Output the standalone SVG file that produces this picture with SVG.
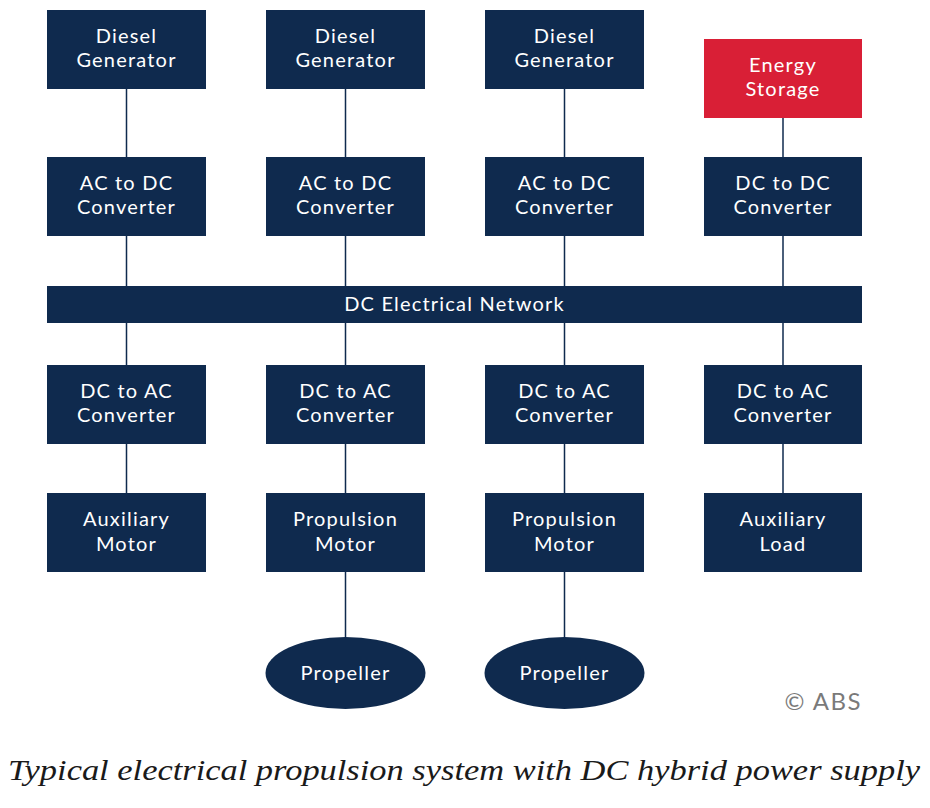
<svg xmlns="http://www.w3.org/2000/svg" width="930" height="808" viewBox="0 0 930 808">
<style>
.box{fill:#0f2a4e}
.red{fill:#d91f36}
.t{font-family:Lato,"Open Sans",sans-serif;font-size:20px;letter-spacing:1.2px;fill:#ffffff;text-anchor:middle}
.ln{stroke:#0f2a4e;stroke-width:1.5;fill:none}
</style>
<rect width="930" height="808" fill="#ffffff"/>
<g id="connectors">
<line class="ln" x1="126.5" y1="89" x2="126.5" y2="493"/>
<line class="ln" x1="345.5" y1="89" x2="345.5" y2="640"/>
<line class="ln" x1="564.5" y1="89" x2="564.5" y2="640"/>
<line class="ln" x1="783" y1="118" x2="783" y2="493"/>
</g>
<g id="dg1"><rect class="box" x="47" y="10" width="159" height="79"/><text class="t" x="126.5" y="43">Diesel</text><text class="t" x="126.5" y="67">Generator</text></g>
<g id="dg2"><rect class="box" x="266" y="10" width="159" height="79"/><text class="t" x="345.5" y="43">Diesel</text><text class="t" x="345.5" y="67">Generator</text></g>
<g id="dg3"><rect class="box" x="485" y="10" width="159" height="79"/><text class="t" x="564.5" y="43">Diesel</text><text class="t" x="564.5" y="67">Generator</text></g>
<g id="es"><rect class="red" x="704" y="39" width="158" height="79"/><text class="t" x="783" y="72">Energy</text><text class="t" x="783" y="96">Storage</text></g>
<g id="acdc1"><rect class="box" x="47" y="157" width="159" height="79"/><text class="t" x="126.5" y="190">AC to DC</text><text class="t" x="126.5" y="214">Converter</text></g>
<g id="acdc2"><rect class="box" x="266" y="157" width="159" height="79"/><text class="t" x="345.5" y="190">AC to DC</text><text class="t" x="345.5" y="214">Converter</text></g>
<g id="acdc3"><rect class="box" x="485" y="157" width="159" height="79"/><text class="t" x="564.5" y="190">AC to DC</text><text class="t" x="564.5" y="214">Converter</text></g>
<g id="dcdc"><rect class="box" x="704" y="157" width="158" height="79"/><text class="t" x="783" y="190">DC to DC</text><text class="t" x="783" y="214">Converter</text></g>
<g id="bus"><rect class="box" x="47" y="286" width="815" height="37"/><text class="t" x="454.5" y="311">DC Electrical Network</text></g>
<g id="dcac1"><rect class="box" x="47" y="365" width="159" height="79"/><text class="t" x="126.5" y="398">DC to AC</text><text class="t" x="126.5" y="422">Converter</text></g>
<g id="dcac2"><rect class="box" x="266" y="365" width="159" height="79"/><text class="t" x="345.5" y="398">DC to AC</text><text class="t" x="345.5" y="422">Converter</text></g>
<g id="dcac3"><rect class="box" x="485" y="365" width="159" height="79"/><text class="t" x="564.5" y="398">DC to AC</text><text class="t" x="564.5" y="422">Converter</text></g>
<g id="dcac4"><rect class="box" x="704" y="365" width="158" height="79"/><text class="t" x="783" y="398">DC to AC</text><text class="t" x="783" y="422">Converter</text></g>
<g id="am"><rect class="box" x="47" y="493" width="159" height="79"/><text class="t" x="126.5" y="526">Auxiliary</text><text class="t" x="126.5" y="551">Motor</text></g>
<g id="pm1"><rect class="box" x="266" y="493" width="159" height="79"/><text class="t" x="345.5" y="526">Propulsion</text><text class="t" x="345.5" y="551">Motor</text></g>
<g id="pm2"><rect class="box" x="485" y="493" width="159" height="79"/><text class="t" x="564.5" y="526">Propulsion</text><text class="t" x="564.5" y="551">Motor</text></g>
<g id="al"><rect class="box" x="704" y="493" width="158" height="79"/><text class="t" x="783" y="526">Auxiliary</text><text class="t" x="783" y="551">Load</text></g>
<g id="prop1"><ellipse class="box" cx="345.5" cy="673" rx="80" ry="36"/><text class="t" x="345.5" y="680">Propeller</text></g>
<g id="prop2"><ellipse class="box" cx="564.5" cy="673" rx="80" ry="36"/><text class="t" x="564.5" y="680">Propeller</text></g>
<text x="862" y="710" text-anchor="end" font-family="Lato,Open Sans,sans-serif" font-size="24" letter-spacing="1.5" fill="#7a7a7a">© ABS</text>
<text x="8" y="780" font-family="Liberation Serif,serif" font-style="italic" font-size="30" fill="#1a1a1a" textLength="912" lengthAdjust="spacingAndGlyphs">Typical electrical propulsion system with DC hybrid power supply</text>
</svg>
